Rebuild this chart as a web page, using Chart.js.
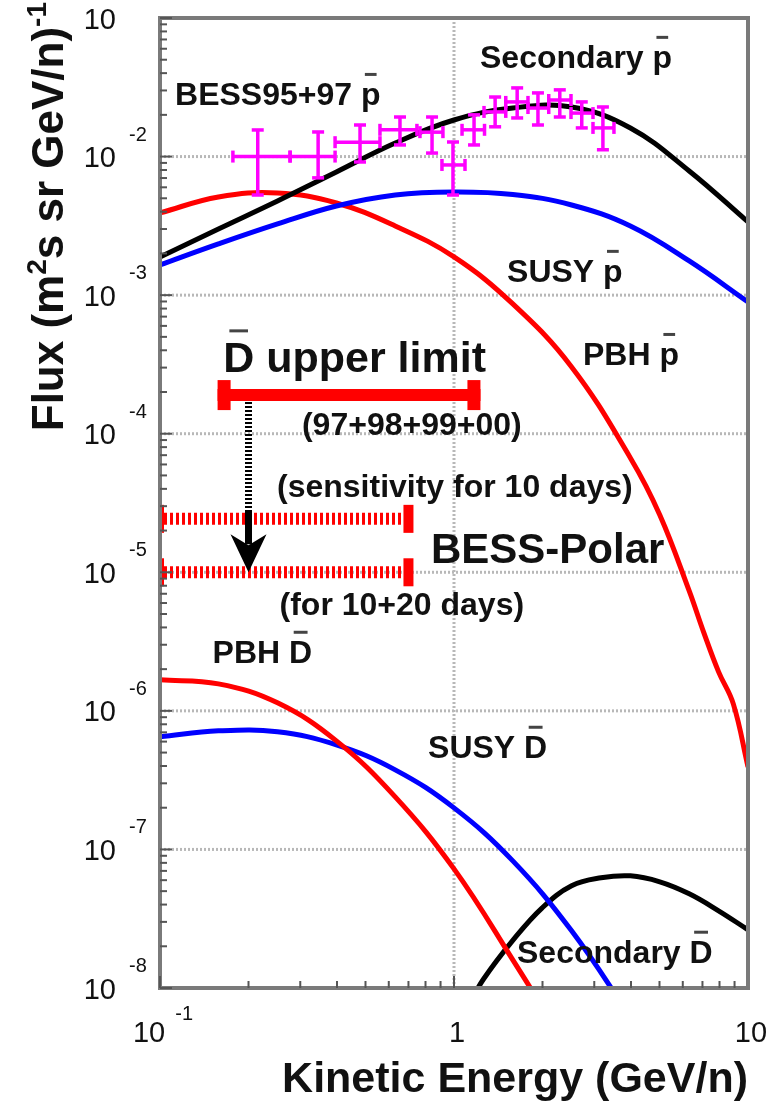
<!DOCTYPE html>
<html>
<head>
<meta charset="utf-8">
<script src="https://cdn.jsdelivr.net/npm/chart.js@4.4.1/dist/chart.umd.min.js"></script>
<style>
  html, body { margin: 0; padding: 0; background: #fff; }
  #wrap { width: 771px; height: 1102px; position: relative; }
</style>
</head>
<body>
<div id="wrap"><canvas id="fluxChart" width="771" height="1102"></canvas></div>
<script>
// Antiproton curves (flux in m^-2 s^-1 sr^-1 (GeV/n)^-1)
const pbarEnergy = [0.1, 0.158, 0.251, 0.398, 0.631, 1, 1.585, 2.512, 3.981, 6.31, 10];
const secondaryPbar = [1.887e-3, 3.003e-3, 4.782e-3, 7.74e-3, 1.253e-2, 1.836e-2, 2.242e-2, 2.28e-2, 1.608e-2, 7.87e-3, 3.374e-3];
const susyPbar = [1.651e-3, 2.341e-3, 3.264e-3, 4.401e-3, 5.284e-3, 5.554e-3, 5.328e-3, 4.475e-3, 3.157e-3, 1.765e-3, 8.93e-4];
const pbhPbarEnergy = [0.1, 0.158, 0.251, 0.398, 0.631, 1, 1.585, 2.512, 3.981, 5.012, 6.31, 7.079, 7.943, 8.913, 10];
const pbhPbar = [3.918e-3, 5.112e-3, 5.463e-3, 4.624e-3, 3.157e-3, 1.887e-3, 8.64e-4, 3.034e-4, 6.69e-5, 2.595e-5, 7.34e-6, 3.654e-6, 1.912e-6, 1.123e-6, 3.945e-7];

// Antideuteron curves
const pbhDbarEnergy = [0.1, 0.158, 0.251, 0.398, 0.631, 1, 1.585, 2.512];
const pbhDbar = [1.674e-6, 1.566e-6, 1.142e-6, 6.075e-7, 2.396e-7, 7.24e-8, 1.597e-8, 3.3e-9];
const susyDbarEnergy = [0.1, 0.158, 0.251, 0.398, 0.631, 1, 1.585, 2.512, 3.981];
const susyDbar = [6.494e-7, 7.173e-7, 7.055e-7, 5.684e-7, 3.753e-7, 1.995e-7, 8.27e-8, 2.587e-8, 6.196e-9];
const secDbarEnergy = [1.122, 1.259, 1.585, 1.995, 2.512, 3.162, 3.981, 5.012, 6.31, 7.943, 10];
const secondaryDbar = [7.56e-9, 1.156e-8, 2.205e-8, 3.79e-8, 5.462e-8, 6.237e-8, 6.447e-8, 5.837e-8, 4.782e-8, 3.606e-8, 2.63e-8];

// BESS95+97 antiproton measurements
const bessEnergy = [0.215, 0.345, 0.479, 0.655, 0.842, 0.992, 1.17, 1.38, 1.64, 1.93, 2.29, 2.72, 3.21];
const bessEnergyLow = [0.177, 0.277, 0.394, 0.56, 0.766, 0.91, 1.065, 1.265, 1.5, 1.785, 2.1, 2.5, 2.97];
const bessEnergyHigh = [0.277, 0.394, 0.56, 0.748, 0.917, 1.09, 1.27, 1.5, 1.785, 2.1, 2.5, 2.97, 3.5];
const bessFlux = [1.0e-2, 1.0e-2, 1.27e-2, 1.56e-2, 1.5e-2, 8.7e-3, 1.56e-2, 2.1e-2, 2.48e-2, 2.24e-2, 2.56e-2, 2.06e-2, 1.61e-2];
const bessFluxLow = [5.28e-3, 7.02e-3, 9.14e-3, 1.213e-2, 1.06e-2, 5.28e-3, 1.213e-2, 1.64e-2, 1.9e-2, 1.69e-2, 1.93e-2, 1.61e-2, 1.12e-2];
const bessFluxHigh = [1.556e-2, 1.505e-2, 1.69e-2, 1.93e-2, 1.93e-2, 1.274e-2, 2.0e-2, 2.69e-2, 3.13e-2, 2.88e-2, 3.03e-2, 2.48e-2, 2.28e-2];

// Antideuteron upper limit (97+98+99+00): energy range and flux
const dbarLimitRange = [0.157, 1.23];
const dbarLimitFlux = 1.9e-4;
// BESS-Polar sensitivity: energy range, 10 days and 10+20 days
const polarRange = [0.1, 0.7];
const polarFlux = [2.43e-5, 1.0e-5];
const arrowEnergy = 0.2;

// Axis ticks (the top exponent falls off the canvas)
const xTicks = [0.1, 1, 10];
const xTickText = [['10', '-1'], ['1', ''], ['10', '']];
const yTicks = [1e-8, 1e-7, 1e-6, 1e-5, 1e-4, 1e-3, 1e-2, 1e-1];
const yTickExp = ['-8', '-7', '-6', '-5', '-4', '-3', '-2', ''];
const gridFlux = [1e-8, 1e-7, 1e-6, 1e-5, 1e-4, 1e-3, 1e-2];
const gridEnergy = [1];

// Text labels placed at (energy, flux) of their left baseline
const labels = [
  { text: 'BESS95+97 ', bar: 'p', x: 0.1125, y: 0.02355, size: 32 },
  { text: 'Secondary ', bar: 'p', x: 1.226, y: 0.0436, size: 32 },
  { text: 'SUSY ', bar: 'p', x: 1.515, y: 1.245e-3, size: 32 },
  { text: 'PBH ', bar: 'p', x: 2.747, y: 3.13e-4, size: 32 },
  { text: '', bar: 'D', after: ' upper limit', x: 0.164, y: 2.79e-4, size: 43 },
  { text: '(97+98+99+00)', x: 0.304, y: 9.8e-5, size: 32 },
  { text: '(sensitivity for 10 days)', x: 0.25, y: 3.5e-5, size: 32 },
  { text: 'BESS-Polar', x: 0.835, y: 1.17e-5, size: 42 },
  { text: '(for 10+20 days)', x: 0.255, y: 4.93e-6, size: 32 },
  { text: 'PBH ', bar: 'D', x: 0.151, y: 2.22e-6, size: 32 },
  { text: 'SUSY ', bar: 'D', x: 0.816, y: 4.58e-7, size: 32 },
  { text: 'Secondary ', bar: 'D', x: 1.638, y: 1.52e-8, size: 32 }
];

const FONT = '"Liberation Sans", Arial, Helvetica, sans-serif';
const pts = (xs, ys) => xs.map((x, i) => ({ x: x, y: ys[i] }));

function curve(data, color) {
  return {
    data: data,
    borderColor: color,
    borderWidth: 5,
    pointRadius: 0,
    fill: false,
    tension: 0.4
  };
}

function seg(ctx, x1, y1, x2, y2) {
  ctx.beginPath();
  ctx.moveTo(x1, y1);
  ctx.lineTo(x2, y2);
  ctx.stroke();
}

// text with an optional overbarred character
function drawLabel(ctx, lb, px, py) {
  ctx.font = 'bold ' + lb.size + 'px ' + FONT;
  ctx.fillStyle = '#111';
  ctx.textAlign = 'left';
  ctx.textBaseline = 'alphabetic';
  let cx = px;
  ctx.fillText(lb.text, cx, py);
  cx += ctx.measureText(lb.text).width;
  if (lb.bar) {
    const w = ctx.measureText(lb.bar).width;
    ctx.fillText(lb.bar, cx, py);
    const by = py - lb.size * 0.716 - lb.size * 0.24;
    ctx.save();
    ctx.strokeStyle = '#444';
    ctx.lineWidth = 3;
    seg(ctx, cx + w * 0.2, by, cx + w * 0.8, by);
    ctx.restore();
    cx += w;
  }
  if (lb.after) ctx.fillText(lb.after, cx, py);
}

const decor = {
  id: 'decor',
  beforeDatasetsDraw(chart) {
    const { ctx, chartArea: a, scales: { x, y } } = chart;
    ctx.save();
    ctx.strokeStyle = '#b8b8b8';
    ctx.lineWidth = 3;
    ctx.setLineDash([2, 2]);
    gridFlux.forEach(v => {
      const py = y.getPixelForValue(v);
      seg(ctx, a.left, py, a.right, py);
    });
    gridEnergy.forEach(v => {
      const px = x.getPixelForValue(v);
      seg(ctx, px, a.top, px, a.bottom);
    });
    ctx.restore();
  },
  afterDatasetsDraw(chart) {
    const { ctx, chartArea: a, scales: { x, y } } = chart;
    ctx.save();

    // BESS-Polar sensitivity bars
    const px0 = x.getPixelForValue(polarRange[0]);
    const px1 = x.getPixelForValue(polarRange[1]);
    ctx.fillStyle = '#ff0000';
    polarFlux.forEach(f => {
      const py = y.getPixelForValue(f);
      ctx.save();
      ctx.strokeStyle = '#ff0000';
      ctx.lineWidth = 12;
      ctx.setLineDash([3, 3]);
      seg(ctx, px0 + 4, py, px1 - 5, py);
      ctx.restore();
      ctx.fillRect(px0, py - 14, 4, 28);
      ctx.fillRect(px1 - 5, py - 14, 10, 28);
    });

    // D-bar upper limit bar
    const lx0 = x.getPixelForValue(dbarLimitRange[0]);
    const lx1 = x.getPixelForValue(dbarLimitRange[1]);
    const ly = y.getPixelForValue(dbarLimitFlux);
    ctx.strokeStyle = '#ff0000';
    ctx.lineWidth = 12;
    seg(ctx, lx0, ly, lx1, ly);
    ctx.fillRect(lx0, ly - 15, 13, 30);
    ctx.fillRect(lx1 - 13, ly - 15, 13, 30);

    // arrow from the limit down to the BESS-Polar reach
    const ax = x.getPixelForValue(arrowEnergy);
    const tip = y.getPixelForValue(polarFlux[1]);
    ctx.strokeStyle = '#000';
    ctx.fillStyle = '#000';
    ctx.save();
    ctx.lineWidth = 7;
    ctx.setLineDash([2, 2]);
    seg(ctx, ax, ly + 7, ax, tip - 60);
    ctx.restore();
    ctx.lineWidth = 7;
    seg(ctx, ax, tip - 61, ax, tip - 28);
    ctx.beginPath();
    ctx.moveTo(ax - 18, tip - 38);
    ctx.lineTo(ax, tip);
    ctx.lineTo(ax + 18, tip - 38);
    ctx.lineTo(ax, tip - 27);
    ctx.closePath();
    ctx.fill();

    // BESS95+97 error crosses
    ctx.strokeStyle = '#ff00ff';
    ctx.lineWidth = 3.5;
    bessEnergy.forEach((e, i) => {
      const cx = x.getPixelForValue(e);
      const cy = y.getPixelForValue(bessFlux[i]);
      const xl = x.getPixelForValue(bessEnergyLow[i]);
      const xh = x.getPixelForValue(bessEnergyHigh[i]);
      const yl = y.getPixelForValue(bessFluxLow[i]);
      const yh = y.getPixelForValue(bessFluxHigh[i]);
      seg(ctx, xl, cy, xh, cy);
      seg(ctx, cx, yl, cx, yh);
      seg(ctx, xl, cy - 6, xl, cy + 6);
      seg(ctx, xh, cy - 6, xh, cy + 6);
      seg(ctx, cx - 6, yl, cx + 6, yl);
      seg(ctx, cx - 6, yh, cx + 6, yh);
    });

    // frame
    ctx.strokeStyle = '#7a7a7a';
    ctx.lineWidth = 4;
    ctx.strokeRect(a.left, a.top, a.right - a.left, a.bottom - a.top);

    // ticks drawn inside the frame
    ctx.strokeStyle = '#555';
    ctx.lineWidth = 2;
    for (let d = -8; d < -1 + 0.5; d++) {
      for (let k = 1; k < 10; k++) {
        const v = k * Math.pow(10, d);
        if (v > 0.1 * 1.0001) continue;
        const py = y.getPixelForValue(v);
        seg(ctx, a.left, py, a.left + (k === 1 ? 12 : 7), py);
      }
    }
    for (let d = -1; d < 1; d++) {
      for (let k = 1; k < 10; k++) {
        const v = k * Math.pow(10, d);
        const px = x.getPixelForValue(v);
        seg(ctx, px, a.bottom, px, a.bottom - (k === 1 ? 12 : 7));
      }
    }

    // tick labels
    ctx.fillStyle = '#111';
    ctx.textBaseline = 'alphabetic';
    yTicks.forEach((v, i) => {
      const py = y.getPixelForValue(v);
      ctx.font = '29px ' + FONT;
      ctx.textAlign = 'right';
      ctx.fillText('10', 116, py + 10.5);
      ctx.font = '20px ' + FONT;
      ctx.textAlign = 'left';
      ctx.fillText(yTickExp[i], 129, py - 16);
    });
    xTicks.forEach((v, i) => {
      const px = x.getPixelForValue(v);
      const [base, exp] = xTickText[i];
      ctx.font = '29px ' + FONT;
      const wb = ctx.measureText(base).width;
      ctx.font = '20px ' + FONT;
      const we = exp ? ctx.measureText(exp).width + 10 : 0;
      const sx = px + 3 - (wb + we) / 2;
      ctx.textAlign = 'left';
      ctx.font = '29px ' + FONT;
      ctx.fillText(base, sx, a.bottom + 54);
      if (exp) {
        ctx.font = '20px ' + FONT;
        ctx.fillText(exp, sx + wb + 10, a.bottom + 32);
      }
    });

    // axis titles
    ctx.font = 'bold 43px ' + FONT;
    ctx.textAlign = 'right';
    ctx.fillText('Kinetic Energy (GeV/n)', a.right, a.bottom + 104);

    ctx.save();
    ctx.translate(63, 2);
    ctx.rotate(-Math.PI / 2);
    const parts = [
      ['Flux (m', 44, 0], ['2', 28, -17], ['s sr GeV/n)', 44, 0], ['-1', 28, -17]
    ];
    let total = 0;
    parts.forEach(p => { ctx.font = 'bold ' + p[1] + 'px ' + FONT; total += ctx.measureText(p[0]).width; });
    let ux = -total;
    ctx.textAlign = 'left';
    parts.forEach(p => {
      ctx.font = 'bold ' + p[1] + 'px ' + FONT;
      ctx.fillText(p[0], ux, p[2]);
      ux += ctx.measureText(p[0]).width;
    });
    ctx.restore();

    // curve and measurement labels
    labels.forEach(lb => {
      drawLabel(ctx, lb, x.getPixelForValue(lb.x), y.getPixelForValue(lb.y));
    });

    ctx.restore();
  }
};

new Chart(document.getElementById('fluxChart'), {
  type: 'line',
  data: {
    datasets: [
      curve(pts(pbarEnergy, secondaryPbar), '#000000'),
      curve(pts(pbarEnergy, susyPbar), '#0000ff'),
      curve(pts(pbhPbarEnergy, pbhPbar), '#ff0000'),
      curve(pts(pbhDbarEnergy, pbhDbar), '#ff0000'),
      curve(pts(susyDbarEnergy, susyDbar), '#0000ff'),
      curve(pts(secDbarEnergy, secondaryDbar), '#000000'),
      {
        data: pts(bessEnergy, bessFlux),
        showLine: false,
        pointRadius: 0,
        borderColor: '#ff00ff'
      }
    ]
  },
  options: {
    responsive: false,
    animation: false,
    layout: { padding: { left: 160, top: 18, right: 23, bottom: 114 } },
    plugins: {
      legend: { display: false },
      tooltip: { enabled: false }
    },
    scales: {
      x: { type: 'logarithmic', display: false, min: 0.1, max: 10 },
      y: { type: 'logarithmic', display: false, min: 1e-8, max: 1e-1 }
    }
  },
  plugins: [decor]
});
</script>
</body>
</html>
